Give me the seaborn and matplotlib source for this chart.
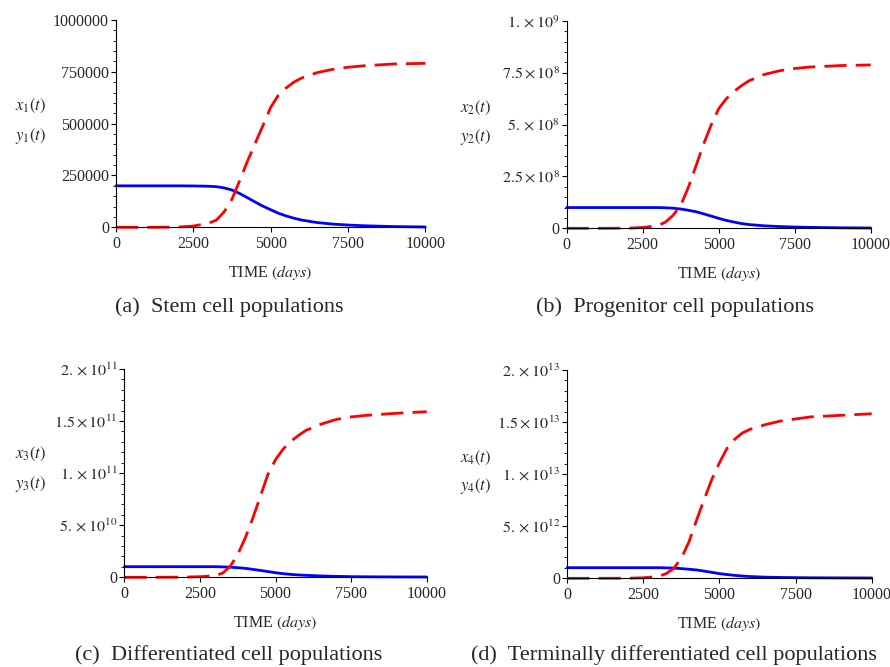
import numpy as np
import pandas as pd
import matplotlib
matplotlib.use("Agg")
import matplotlib.pyplot as plt
import seaborn as sns
from matplotlib.ticker import FixedLocator, FixedFormatter, AutoMinorLocator

# ── dados (tempo em dias) ───────────────────────────────────────────
TIME = [0, 1000, 2000, 2500, 3000, 3250, 3500, 3750, 4000, 4250, 4500, 4750,
        5000, 5250, 5500, 5750, 6000, 6500, 7000, 7500, 8000, 9000, 10000]

# (a) stem cells
x1 = [2.0e5, 2.0e5, 2.0e5, 1.995e5, 1.98e5, 1.96e5, 1.90e5, 1.80e5, 1.63e5, 1.43e5,
      1.22e5, 1.02e5, 8.5e4, 6.8e4, 5.5e4, 4.4e4, 3.5e4, 2.3e4, 1.55e4, 1.1e4,
      7.5e3, 3.5e3, 1.6e3]
y1 = [0, 0, 1.0e3, 6.0e3, 2.0e4, 3.5e4, 7.5e4, 1.35e5, 2.25e5, 3.18e5, 4.05e5,
      4.9e5, 5.78e5, 6.37e5, 6.72e5, 7.0e5, 7.2e5, 7.46e5, 7.62e5, 7.72e5, 7.79e5,
      7.88e5, 7.91e5]

# (b) progenitor cells
x2 = [1.0e8, 1.0e8, 1.0e8, 1.0e8, 1.0e8, 9.9e7, 9.7e7, 9.3e7, 8.7e7, 8.0e7, 7.0e7,
      5.9e7, 4.8e7, 3.8e7, 3.0e7, 2.3e7, 1.8e7, 1.2e7, 8.5e6, 6.0e6, 4.5e6, 2.5e6,
      1.5e6]
y2 = [0, 0, 5.0e5, 4.0e6, 1.3e7, 3.0e7, 6.3e7, 1.1e8, 1.97e8, 3.0e8, 4.05e8, 4.98e8,
      5.77e8, 6.25e8, 6.6e8, 6.88e8, 7.12e8, 7.42e8, 7.6e8, 7.71e8, 7.78e8, 7.85e8,
      7.88e8]

# (c) differentiated cells
x3 = [1.02e10, 1.02e10, 1.02e10, 1.02e10, 1.02e10, 1.0e10, 9.7e9, 9.2e9, 8.6e9,
      7.6e9, 6.6e9, 5.5e9, 4.4e9, 3.5e9, 2.8e9, 2.3e9, 1.9e9, 1.3e9, 9.0e8, 6.4e8,
      5.0e8, 3.5e8, 3.0e8]
y3 = [0, 0, 2.0e8, 6.0e8, 1.6e9, 4.0e9, 1.05e10, 2.2e10, 3.8e10, 5.7e10, 7.8e10,
      9.9e10, 1.13e11, 1.23e11, 1.305e11, 1.36e11, 1.41e11, 1.47e11, 1.515e11,
      1.54e11, 1.555e11, 1.575e11, 1.59e11]

# (d) terminally differentiated cells
x4 = [1.02e12, 1.02e12, 1.02e12, 1.02e12, 1.02e12, 1.0e12, 9.8e11, 9.3e11, 8.7e11,
      8.0e11, 6.9e11, 5.7e11, 4.5e11, 3.6e11, 2.8e11, 2.2e11, 1.7e11, 1.1e11,
      8.0e10, 6.4e10, 5.0e10, 3.8e10, 3.0e10]
y4 = [0, 0, 1.0e10, 5.0e10, 1.8e11, 4.5e11, 9.5e11, 1.95e12, 3.5e12, 5.6e12, 7.6e12,
      9.5e12, 1.11e13, 1.25e13, 1.335e13, 1.395e13, 1.43e13, 1.475e13, 1.51e13,
      1.53e13, 1.55e13, 1.565e13, 1.58e13]

X_TICKS = [0, 2500, 5000, 7500, 10000]
X_TICK_LABELS = ["0", "2500", "5000", "7500", "10000"]

Y_TICKS_A = [0, 2.5e5, 5e5, 7.5e5, 1e6]
Y_LABELS_A = ["0", "250000", "500000", "750000", "1000000"]
Y_TICKS_B = [0, 2.5e8, 5e8, 7.5e8, 1e9]
Y_LABELS_B = ["0", r"$2.5\times10^{8}$", r"$5.\times10^{8}$", r"$7.5\times10^{8}$",
              r"$1.\times10^{9}$"]
Y_TICKS_C = [0, 5e10, 1e11, 1.5e11, 2e11]
Y_LABELS_C = ["0", r"$5.\times10^{10}$", r"$1.\times10^{11}$", r"$1.5\times10^{11}$",
              r"$2.\times10^{11}$"]
Y_TICKS_D = [0, 5e12, 1e13, 1.5e13, 2e13]
Y_LABELS_D = ["0", r"$5.\times10^{12}$", r"$1.\times10^{13}$", r"$1.5\times10^{13}$",
              r"$2.\times10^{13}$"]

CAPTIONS = ["(a)  Stem cell populations",
            "(b)  Progenitor cell populations",
            "(c)  Differentiated cell populations",
            "(d)  Terminally differentiated cell populations"]

sns.set_theme(style="white")
plt.rcParams["font.family"] = ["Liberation Serif", "DejaVu Serif"]
plt.rcParams["mathtext.fontset"] = "stix"

W, H = 890, 667
fig = plt.figure(figsize=(W / 100, H / 100), dpi=100)


def px_axes(left, right, top, bottom):
    return [left / W, 1 - bottom / H, (right - left) / W, (bottom - top) / H]


panels = [
    dict(pos=px_axes(115.9, 425.3, 20.0, 227.3), xs=x1, ys=y1, k=1,
         yt=Y_TICKS_A, yl=Y_LABELS_A, lab=(15, 110, 140), cap=(229, 307)),
    dict(pos=px_axes(566.7, 870.7, 21.0, 228.3), xs=x2, ys=y2, k=2,
         yt=Y_TICKS_B, yl=Y_LABELS_B, lab=(460, 112, 141), cap=(675, 307)),
    dict(pos=px_axes(124.4, 426.7, 369.0, 577.3), xs=x3, ys=y3, k=3,
         yt=Y_TICKS_C, yl=Y_LABELS_C, lab=(15, 458, 488), cap=(229, 655)),
    dict(pos=px_axes(567.2, 871.7, 370.0, 578.3), xs=x4, ys=y4, k=4,
         yt=Y_TICKS_D, yl=Y_LABELS_D, lab=(460, 462, 490), cap=(674, 655)),
]

for p, cap in zip(panels, CAPTIONS):
    ax = fig.add_axes(p["pos"])
    df = pd.DataFrame({
        "time": TIME + TIME,
        "value": p["xs"] + p["ys"],
        "serie": ["x"] * len(TIME) + ["y"] * len(TIME),
    })
    sns.lineplot(data=df, x="time", y="value", hue="serie", style="serie",
                 hue_order=["x", "y"], style_order=["x", "y"],
                 palette={"x": "#0000ff", "y": "#ff0000"},
                 dashes={"x": "", "y": (8.0, 3.3)},
                 linewidth=2.0, legend=False, clip_on=False, ax=ax)

    ax.set_xlim(0, 10000)
    ax.set_ylim(p["yt"][0], p["yt"][-1])
    for side in ["top", "right"]:
        ax.spines[side].set_visible(False)
    for side in ["left", "bottom"]:
        ax.spines[side].set_color("black")
        ax.spines[side].set_linewidth(0.8)

    ax.xaxis.set_major_locator(FixedLocator(X_TICKS))
    ax.xaxis.set_major_formatter(FixedFormatter(X_TICK_LABELS))
    ax.yaxis.set_major_locator(FixedLocator(p["yt"]))
    ax.yaxis.set_major_formatter(FixedFormatter(p["yl"]))
    ax.yaxis.set_minor_locator(AutoMinorLocator(5))
    ax.tick_params(axis="x", which="major", direction="out", length=3.5, width=0.8,
                   color="black", labelsize=11.5, pad=3, bottom=True)
    ax.tick_params(axis="y", which="major", direction="out", length=3.5, width=0.8,
                   color="black", labelsize=11.5, pad=1.5, left=True)
    ax.tick_params(axis="y", which="minor", direction="out", length=2, width=0.6,
                   color="black", left=True)

    ax.set_xlabel(r"TIME $(\mathit{days})$", fontsize=11.5)
    ax.xaxis.set_label_coords(0.5, -0.17)
    ax.set_ylabel("")

    lx, b1, b2 = p["lab"]
    k = p["k"]
    fig.text(lx / W, 1 - b1 / H, rf"$x_{{{k}}}(t)$", fontsize=12,
             ha="left", va="baseline")
    fig.text(lx / W, 1 - b2 / H, rf"$y_{{{k}}}(t)$", fontsize=12,
             ha="left", va="baseline")

    cx, cy = p["cap"]
    fig.text(cx / W, 1 - cy / H, cap, fontsize=16, ha="center", va="center")

fig.savefig("out.png", dpi=100)
